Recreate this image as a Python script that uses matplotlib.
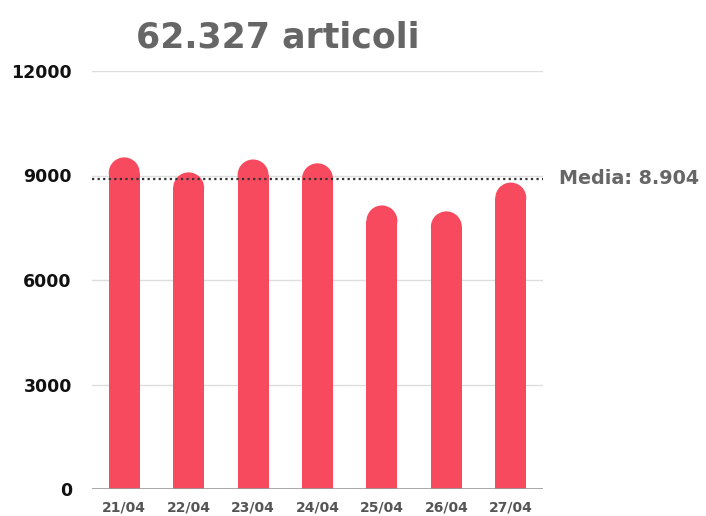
import matplotlib.pyplot as plt
from matplotlib.patches import Ellipse

# data
days = ['21/04', '22/04', '23/04', '24/04', '25/04', '26/04', '27/04']
articles = [9520, 9090, 9460, 9350, 8140, 7970, 8797]
media = 8904
title = '62.327 articoli'
yticks = [0, 3000, 6000, 9000, 12000]

bar_color = '#F74A5E'
W, H = 706, 516

fig = plt.figure(figsize=(W / 100, H / 100), dpi=100)
ax = fig.add_axes([92 / W, (H - 489) / H, (543 - 92) / W, (489 - 71) / H])
ax.set_xlim(-0.5, len(days) - 0.5)
ax.set_ylim(0, 12000)

# grid lines
for t in yticks[1:]:
    ax.axhline(t, color='#dddddd', lw=1, zorder=0)
ax.axhline(0, color='#999999', lw=1.2, zorder=3)

# rounded-top bars: rectangle + elliptical cap (circle in pixels)
bw = 0.48
px_x = ax.bbox.width / (len(days))      # pixels per x unit
px_y = ax.bbox.height / 12000           # pixels per y unit
ry = (bw / 2) * px_x / px_y
for i, v in enumerate(articles):
    ax.bar(i, v - ry, width=bw, color=bar_color, lw=0, zorder=2)
    ax.add_patch(Ellipse((i, v - ry), bw, 2 * ry, facecolor=bar_color,
                         lw=0, zorder=2))

# average line
ax.axhline(media, color='#333333', lw=1.6, ls=(0, (1, 1.5)), zorder=4)
ax.text(len(days) - 0.5 + 16 / px_x, media, 'Media: ' + f'{media:,}'.replace(',', '.'),
        va='center', ha='left', fontsize=13.8, fontweight='bold', color='#666666',
        clip_on=False)

ax.set_xticks(range(len(days)))
ax.set_xticklabels(days, fontsize=10, fontweight='bold', color='#555555')
ax.set_yticks(yticks)
ax.set_yticklabels([str(t) for t in yticks], fontsize=12.5, fontweight='bold', color='#111111')
ax.tick_params(length=0)
ax.tick_params(axis='y', pad=14.5)
ax.tick_params(axis='x', pad=8)
for s in ax.spines.values():
    s.set_visible(False)

fig.text(278 / W, 1 - 37 / H, title, ha='center', va='center', fontsize=25,
         fontweight='bold', color='#666666')

fig.savefig('out.png', dpi=100)
